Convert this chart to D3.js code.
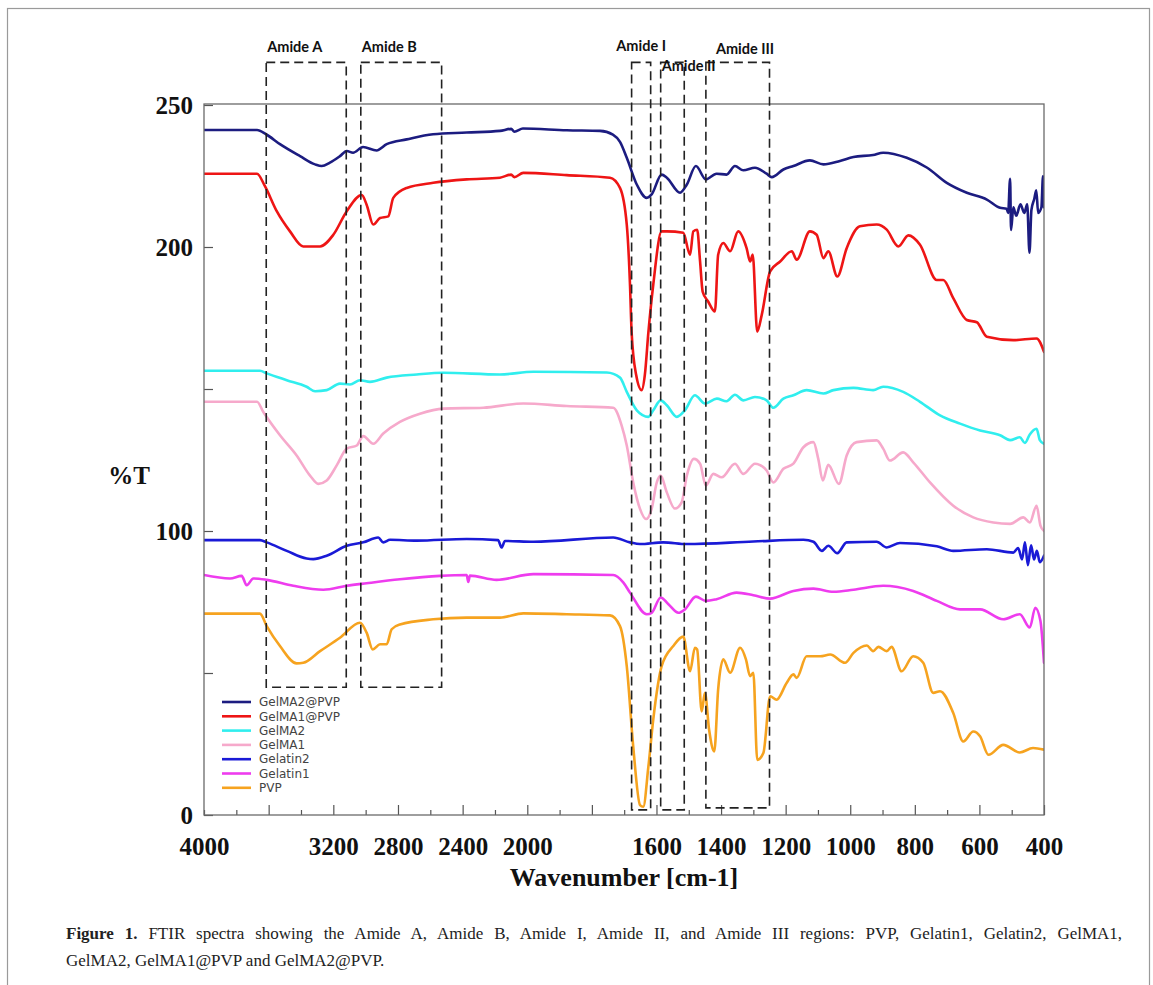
<!DOCTYPE html>
<html><head><meta charset="utf-8">
<script src="https://cdn.jsdelivr.net/npm/d3@7/dist/d3.min.js"></script>
<style>
html,body{margin:0;padding:0;background:#fff;}
svg{display:block;}
</style></head>
<body>
<svg id="chart" width="1153" height="985"></svg>
<script>
// ---------- DATA ----------
const seriesNames = ["GelMA2@PVP","GelMA1@PVP","GelMA2","GelMA1","Gelatin2","Gelatin1","PVP"];
const seriesColors = ["#1c1c80","#ee1515","#30eeee","#f6a9cb","#1a1ad6","#ee3cee","#f6a31f"];

const gelMA2PVP = [[4000,241.2],[3672,241.2],[3616,239.7],[3530,236.2],[3406,232],[3313,229.1],[3272,228.5],[3221,229.7],[3159,232],[3117,233.8],[3078,233.2],[3016,235.2],[2932,234],[2870,236.2],[2746,237.9],[2583,239.7],[2375,240.3],[2169,240.9],[2100,241.6],[2080,240.6],[2027,241.7],[1878,241.1],[1775,240.9],[1735,239.6],[1713,237],[1692,231.4],[1661,222],[1630,217.3],[1615,218.5],[1584,225.5],[1568,224.4],[1527,219.1],[1506,222],[1478,228.5],[1447,223.8],[1414,225.8],[1383,225.5],[1357,228.5],[1331,227],[1295,227.9],[1259,225.8],[1243,224.6],[1207,227.3],[1176,228.5],[1125,230.5],[1083,229.1],[1032,230.3],[990,231.7],[929,232.4],[898,233.2],[825,231.4],[763,228],[701,222.6],[639,219.1],[577,216.7],[536,213.8],[516,213.5],[511,212],[505,224],[502,206],[495,214],[486,211],[473,215],[461,212],[452,215],[445,198],[439,213],[430,217],[424,220],[418,212],[408,214],[403,225],[400,214]];

const gelMA1PVP = [[4000,225.8],[3672,225.8],[3623,221.4],[3550,212.6],[3468,205.5],[3386,200.2],[3282,200.2],[3200,204.3],[3117,212.6],[3024,218.3],[2994,214.9],[2953,207.9],[2911,210.2],[2860,210.8],[2829,217.3],[2746,220.8],[2582,222.6],[2375,223.8],[2169,224.4],[2100,225.5],[2080,224.6],[2025,226.1],[1878,225.3],[1744,224.4],[1713,220.8],[1692,207.9],[1682,186.7],[1677,170],[1663,155],[1646,149.6],[1636,155],[1625,170],[1610,186.7],[1584,205.5],[1568,205.5],[1517,205],[1496,197.3],[1486,205.5],[1474,206.1],[1465,194.9],[1457,184.3],[1440,180.8],[1419,177.3],[1409,197.3],[1393,201.4],[1372,198.5],[1347,205.5],[1321,199.6],[1310,194.9],[1302,197.3],[1288,170.2],[1274,176.1],[1248,191.4],[1217,194.9],[1181,198.5],[1166,195.5],[1125,205.5],[1104,204.3],[1083,196.1],[1068,198.5],[1040,189.6],[1011,199.6],[970,207.3],[918,207.9],[887,206.1],[851,200.2],[820,204.1],[784,200.8],[732,188.4],[712,188.4],[681,182],[639,174.3],[608,173.5],[577,168.4],[495,167.2],[423,167.8],[400,163.1]];

const gelMA2 = [[4000,156.4],[3654,156.4],[3612,155.5],[3488,153.1],[3365,150.8],[3313,149.2],[3241,149.6],[3159,151.9],[3097,151.6],[3035,153.1],[2973,152.5],[2870,154],[2684,155.1],[2520,155.7],[2169,155.1],[1981,156.1],[1754,155.8],[1713,154],[1692,149],[1661,142.5],[1625,140.2],[1610,142.5],[1587,146],[1568,144.3],[1537,140.2],[1512,142.5],[1481,147.8],[1450,144.9],[1413,146.6],[1383,145.7],[1357,148],[1331,146],[1295,147.2],[1259,146],[1238,143.4],[1207,146.6],[1176,147.8],[1135,149.6],[1083,148.4],[1052,149.6],[990,150.4],[929,149.6],[898,150.8],[836,149],[784,145.5],[722,140.7],[660,137.8],[598,135.4],[536,133.7],[505,132],[475,133],[459,131],[444,134],[423,136],[413,132],[400,130.7]];

const gelMA1 = [[4000,145.5],[3672,145.5],[3633,141.9],[3530,133.7],[3427,126.6],[3344,119.5],[3293,116.6],[3241,117.8],[3179,123.1],[3117,129],[3055,130.1],[3015,133.4],[2953,130.7],[2891,134.3],[2788,138.4],[2664,141.3],[2520,143.1],[2272,143.4],[2025,144.9],[1878,144],[1734,143.4],[1708,137.2],[1692,130.1],[1672,117.1],[1651,107.8],[1632,104.2],[1615,107.8],[1599,117.1],[1587,119.5],[1568,113.6],[1543,107.9],[1522,110.1],[1506,119.5],[1484,125.4],[1465,123.7],[1447,116],[1424,120.1],[1398,118.9],[1357,123.7],[1331,120.1],[1295,123.7],[1259,121.3],[1238,117.1],[1207,121.9],[1176,123.7],[1145,129.5],[1114,131.3],[1099,125.4],[1085,117.8],[1068,123.3],[1035,116.6],[1011,126.6],[980,131.3],[918,131.9],[898,129],[877,124.8],[836,127.7],[805,124.2],[753,117.1],[681,108.9],[619,104.8],[557,103],[505,102.5],[464,104.8],[444,103],[423,108.9],[411,101.9],[400,100]];

const gelatin2 = [[4000,96.8],[3654,96.8],[3612,96],[3488,93],[3365,90.3],[3324,90.1],[3241,91.3],[3117,94.8],[3015,96],[2922,97.7],[2891,96],[2849,96.9],[2684,96.6],[2375,97.2],[2181,96.8],[2159,94.2],[2138,96.5],[1981,96.2],[1734,97.7],[1682,96],[1651,95.4],[1579,96],[1506,95.4],[1300,96.3],[1145,96.9],[1114,96.2],[1088,93],[1068,94.8],[1040,92.2],[1011,96],[918,96.2],[887,94.2],[846,95.8],[732,94.6],[681,93],[577,93.6],[495,92.4],[480,94],[468,90],[459,96],[450,88],[440,95],[431,90],[422,93],[413,89],[400,91.3]];

const gelatin1 = [[4000,84.5],[3839,83.3],[3767,84.2],[3736,80.9],[3695,83.3],[3612,82.8],[3448,80.7],[3262,79.3],[3117,80.7],[2994,81.6],[2788,83],[2540,84.2],[2375,84.5],[2365,82.1],[2355,84.3],[2190,82.8],[1981,84.8],[1734,84.5],[1703,81.9],[1682,78.3],[1630,70.7],[1615,71.2],[1587,76.6],[1563,74.2],[1532,71.2],[1512,72.4],[1478,76.9],[1447,75.4],[1414,76],[1352,78.3],[1300,77.4],[1248,76.2],[1176,78.9],[1114,79.7],[1052,78.6],[990,79.3],[898,80.7],[805,78.9],[732,75.4],[660,72.4],[598,72.4],[526,68.9],[475,70.7],[444,66],[427,73],[411,68.3],[400,53.6]];

const pvp = [[4000,70.9],[3654,70.9],[3612,66.5],[3530,59.5],[3427,53.4],[3386,53.6],[3282,57.7],[3159,62.4],[3035,67.7],[2994,64.2],[2956,58.3],[2911,60.1],[2870,60.1],[2839,65.4],[2788,67.1],[2582,68.9],[2375,69.5],[2169,69.5],[2025,71],[1878,70.7],[1744,70.3],[1713,66.5],[1692,52.4],[1672,24.1],[1651,3.5],[1641,2.9],[1625,17.1],[1610,33.6],[1584,52.4],[1548,59.5],[1517,62.8],[1496,50.6],[1481,58.9],[1474,58.3],[1460,36.5],[1450,43],[1437,30],[1421,22.4],[1409,44.2],[1393,54.8],[1372,50.1],[1341,58.9],[1323,54.8],[1310,48.9],[1300,50.1],[1288,19.4],[1269,21.8],[1248,41.8],[1228,40.6],[1197,46.5],[1176,49.5],[1166,48.3],[1135,55.9],[1093,55.9],[1062,56.5],[1016,53.6],[990,57.1],[949,59.7],[929,57.7],[913,59.2],[887,57.7],[872,59.2],[841,50.6],[805,55.9],[774,53.6],[743,43],[722,43.6],[681,35.9],[650,25.9],[619,29.4],[598,27.7],[572,21.2],[526,24.7],[475,22],[434,23.6],[400,23]];

const seriesData = [gelMA2PVP, gelMA1PVP, gelMA2, gelMA1, gelatin2, gelatin1, pvp];

// axis ticks
const xTickValues = [4000,3800,3600,3400,3200,3000,2800,2600,2400,2200,2000,1900,1800,1700,1600,1500,1400,1300,1200,1100,1000,900,800,700,600,500,400];
const xMajorTicks = [3600,3200,2800,2400,2000,1800,1600,1400,1200,1000,800,600,400];
const xTickLabels = [4000,3200,2800,2400,2000,1600,1400,1200,1000,800,600,400];
const yTickValues = [0,50,100,150,200,250];
const yTickLabels = [0,100,200,250];

// amide regions
const amideNames = ["Amide A","Amide B","Amide I","Amide II","Amide III"];
const amideHigh = [3615,3030,1677,1587,1447];
const amideLow = [3120,2530,1618,1514,1250];
const amideTop = [265,265,265,265,265];
const amideBottom = [45,45,1.8,1.8,2.5];

const xTitle = "Wavenumber [cm-1]";
const yTitle = "%T";
const captionBold = "Figure 1.";
const captionLine1 = " FTIR spectra showing the Amide A, Amide B, Amide I, Amide II, and Amide III regions: PVP, Gelatin1, Gelatin2, GelMA1,";
const captionLine2 = "GelMA2, GelMA1@PVP and GelMA2@PVP.";

// ---------- DRAW ----------
(function(){
const svg = d3.select("#chart");
const pL = 204, pR = 1044, pT = 104, pB = 815;

const x = d3.scaleLinear().domain([4000,2000,400]).range([pL,527.3,pR]);
const y = d3.scaleLinear().domain([0,250]).range([pB,105]);

svg.append("rect").attr("x",7.5).attr("y",8.5).attr("width",1142).attr("height",1000)
  .attr("fill","none").attr("stroke","#9a9a9a").attr("stroke-width",1.2);

svg.append("defs").append("clipPath").attr("id","plotclip")
  .append("rect").attr("x",pL).attr("y",pT).attr("width",pR-pL).attr("height",pB-pT);

const line = d3.line().x(d=>x(d[0])).y(d=>y(d[1])).curve(d3.curveMonotoneX);
const gLines = svg.append("g").attr("clip-path","url(#plotclip)");
for (let idx = seriesData.length-1; idx >= 0; idx--) {
  gLines.append("path").datum(seriesData[idx]).attr("d",line)
    .attr("fill","none").attr("stroke",seriesColors[idx])
    .attr("stroke-width",2.6).attr("stroke-linejoin","round").attr("stroke-linecap","round");
}

const xAxis = d3.axisBottom(x).tickValues(xTickValues).tickSize(-10).tickPadding(22)
  .tickFormat(d=> xTickLabels.includes(d) ? String(d) : "");
const gx = svg.append("g").attr("transform",`translate(0,${pB})`).call(xAxis);
gx.select(".domain").remove();
gx.selectAll(".tick line").attr("stroke","#555").attr("stroke-width",1.2)
  .attr("y2", d=> xMajorTicks.includes(d) ? -10 : -5);
gx.selectAll(".tick text").attr("font-family","'Liberation Serif','Times New Roman',serif")
  .attr("font-weight","bold").attr("font-size","25px").attr("fill","#111").attr("dy","0.71em");

const yAxis = d3.axisLeft(y).tickValues(yTickValues).tickSize(-9).tickPadding(11)
  .tickFormat(d=> yTickLabels.includes(d) ? String(d) : "");
const gy = svg.append("g").attr("transform",`translate(${pL},0)`).call(yAxis);
gy.select(".domain").remove();
gy.selectAll(".tick line").attr("stroke","#555").attr("stroke-width",1.2);
gy.selectAll(".tick text").attr("font-family","'Liberation Serif','Times New Roman',serif")
  .attr("font-weight","bold").attr("font-size","25px").attr("fill","#111");

svg.append("rect").attr("x",pL).attr("y",pT).attr("width",pR-pL).attr("height",pB-pT)
  .attr("fill","none").attr("stroke","#6a6a6a").attr("stroke-width",1.3);

const gBox = svg.append("g");
amideNames.forEach((n,i)=>{
  const x0 = x(amideHigh[i]), x1 = x(amideLow[i]);
  const y0 = y(amideTop[i]), y1 = y(amideBottom[i]);
  gBox.append("rect").attr("x",x0).attr("y",y0).attr("width",x1-x0).attr("height",y1-y0)
    .attr("fill","none").attr("stroke","#222").attr("stroke-width",1.6).attr("stroke-dasharray","9,5");
});
const labelStyle = sel => sel.attr("font-family","Lato,'Open Sans',sans-serif").attr("font-weight","bold")
  .attr("font-size","14.5px").attr("fill","#111");
[0,1].forEach(i=>{
  svg.append("text").attr("x",x(amideHigh[i])+1).attr("y",52).text(amideNames[i]).call(labelStyle);
});
svg.append("text").attr("x",(x(amideHigh[2])+x(amideLow[2]))/2).attr("y",51).attr("text-anchor","middle")
  .text(amideNames[2]).call(labelStyle);
svg.append("text").attr("x",x(amideHigh[3])+1).attr("y",71).text(amideNames[3]).call(labelStyle);
svg.append("text").attr("x",x(amideHigh[4])+10).attr("y",54).text(amideNames[4]).call(labelStyle);

const gLeg = svg.append("g").attr("transform","translate(222,702)");
seriesNames.forEach((n,i)=>{
  const row = gLeg.append("g").attr("transform",`translate(0,${i*14.3})`);
  row.append("line").attr("x1",0).attr("x2",29).attr("y1",0).attr("y2",0)
    .attr("stroke",seriesColors[i]).attr("stroke-width",2.6);
  row.append("text").attr("x",37).attr("y",0).attr("dy","0.35em").text(n)
    .attr("font-family","'DejaVu Sans',Verdana,sans-serif").attr("font-size","12px").attr("fill","#444");
});

svg.append("text").attr("x",624).attr("y",886).attr("text-anchor","middle").text(xTitle)
  .attr("font-family","'Liberation Serif','Times New Roman',serif").attr("font-weight","bold")
  .attr("font-size","26px").attr("fill","#111");
svg.append("text").attr("x",129).attr("y",484).attr("text-anchor","middle").text(yTitle)
  .attr("font-family","'Liberation Serif','Times New Roman',serif").attr("font-weight","bold")
  .attr("font-size","25px").attr("fill","#111");

// caption: first line justified to the right margin
const capFont = "'Liberation Serif','Times New Roman',serif";
const capX = 66, capRight = 1122;
const cap = svg.append("text").attr("x",capX).attr("y",939)
  .attr("font-family",capFont).attr("font-size","17px").attr("fill","#222");
cap.append("tspan").attr("font-weight","bold").text(captionBold);
cap.append("tspan").text(captionLine1);
const natural = cap.node().getComputedTextLength();
const spaces = (captionBold + captionLine1).split(" ").length - 1;
const extra = Math.max(0, (capRight - capX - natural) / spaces);
cap.attr("word-spacing", extra.toFixed(2) + "px");
svg.append("text").attr("x",capX).attr("y",966)
  .attr("font-family",capFont).attr("font-size","17px").attr("fill","#222")
  .text(captionLine2);
})();
</script>
</body></html>
